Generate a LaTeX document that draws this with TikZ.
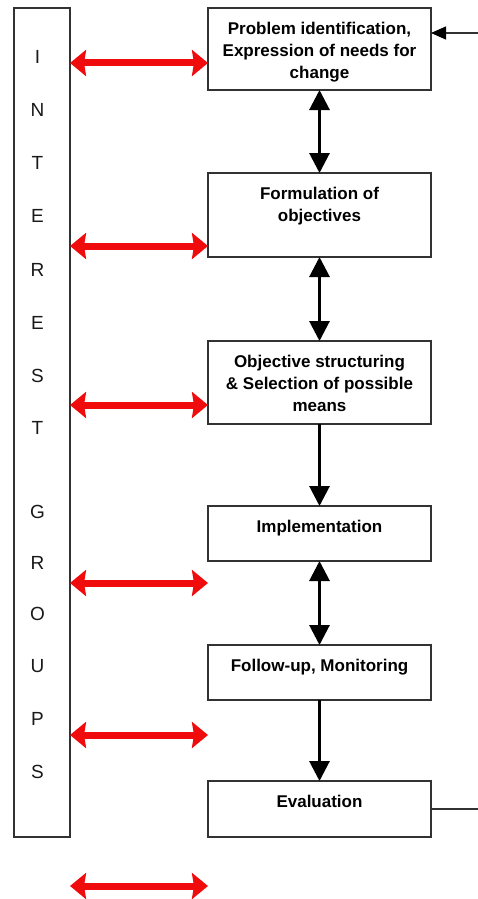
\documentclass[tikz,border=0pt]{standalone}
\usepackage{fontspec}
\setmainfont{Liberation Sans}
\usetikzlibrary{arrows.meta}
\definecolor{edge}{RGB}{50,50,50}
\definecolor{linkred}{RGB}{240,12,12}
% Bold, centred, top-aligned text block of a stage box: #1 = box height, #2 = text
\newcommand\stagebody[2]{%
  \begin{minipage}[t][#1][t]{223pt}%
    \centering\fontsize{17}{21.7}\bfseries\selectfont
    \vspace*{14.6pt}#2%
  \end{minipage}}
\begin{document}
\begin{tikzpicture}[x=1pt,y=-1pt,
  stage/.style={draw=edge, line width=1.4pt, inner sep=0pt, outer sep=0pt,
    anchor=north west},
  frame/.style={draw=edge, line width=1.4pt, inner sep=0pt, outer sep=0pt,
    anchor=north west, minimum width=56pt, minimum height=829pt},
  ltr/.style={font=\fontsize{19}{19}\selectfont, inner sep=0pt, text=black!90},
  flow/.style={line width=3pt, -{Triangle[length=20pt,width=20pt]}},
  both/.style={line width=3pt,
    {Triangle[length=20pt,width=20pt]}-{Triangle[length=20pt,width=20pt]}},
  link/.style={linkred, line width=7pt,
    {Stealth[length=16pt,width=26pt,inset=2pt]}-{Stealth[length=16pt,width=26pt,inset=2pt]}},
  feed/.style={draw=edge, line width=1.3pt}]

\fill[white] (0,0) rectangle (478,899);
\useasboundingbox (0,0) rectangle (478,899);

% interest groups column
\node[frame] (ig) at (14,8) {};
\foreach \c/\y [count=\i] in {I/57,N/110,T/163,E/216,R/270,E/323,S/376,T/428,
                               G/512,R/563,O/614,U/666,P/719,S/772}
  \node[ltr] (ltr\i) at (37.5,\y) {\c};

% stages of the process
\node[stage] (p1) at (208,8)   {\stagebody{82pt}{Problem identification,\\ Expression of needs for\\ change}};
\node[stage] (p2) at (208,173) {\stagebody{84pt}{Formulation of\\ objectives}};
\node[stage] (p3) at (208,341) {\stagebody{83pt}{Objective structuring\\ \& Selection of possible\\ means}};
\node[stage] (p4) at (208,506) {\stagebody{55pt}{Implementation}};
\node[stage] (p5) at (208,645) {\stagebody{55pt}{Follow-up, Monitoring}};
\node[stage] (p6) at (208,781) {\stagebody{56pt}{Evaluation}};

% links between consecutive stages
\draw[both] (p1.south) -- (p2.north);
\draw[both] (p2.south) -- (p3.north);
\draw[flow] (p3.south) -- (p4.north);
\draw[both] (p4.south) -- (p5.north);
\draw[flow] (p5.south) -- (p6.north);

% feedback from evaluation back to problem identification
\coordinate (fbin)  at (478,33);
\coordinate (fbout) at (478,809);
\draw[feed, -{Triangle[length=15pt,width=13pt,color=black]}] (fbin) -- (p1.east |- fbin);
\draw[feed] (p6.east) -- (fbout);

% exchanges with the interest groups
\foreach \y [count=\i] in {63,246,405,583,735,886}
  \coordinate (h\i) at (0,\y);
\draw[link] (ig.east |- h1) -- (p1.west |- h1);
\draw[link] (ig.east |- h2) -- (p2.west |- h2);
\draw[link] (ig.east |- h3) -- (p3.west |- h3);
\draw[link] (ig.east |- h4) -- (p4.west |- h4);
\draw[link] (ig.east |- h5) -- (p5.west |- h5);
\draw[link] (ig.east |- h6) -- (p6.west |- h6);
\end{tikzpicture}
\end{document}
